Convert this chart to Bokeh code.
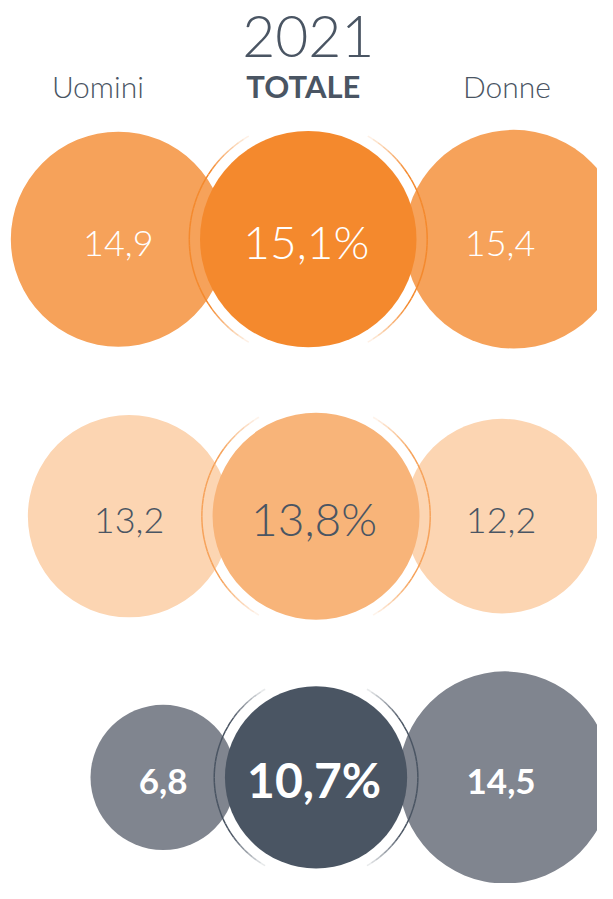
import numpy as np
from bokeh.plotting import figure
from bokeh.models import Range1d
from bokeh.core.properties import value
from bokeh.embed import file_html
from bokeh.resources import INLINE

# ---- data ----
year = "2021"
categories = ["Uomini", "TOTALE", "Donne"]
uomini = [14.9, 13.2, 6.8]
totale = [15.1, 13.8, 10.7]
donne = [15.4, 12.2, 14.5]

# ---- layout / style ----
row_y = [243, 525, 791]
x_uomini = [121, 132, 167]
x_tot = [316, 324, 324]
x_donne = [527, 515, 518]
text_x_donne = [513, 514, 514]
k = 28.6  # radius = k * sqrt(value), area proportional to value

side_colors = ["#F6A25A", "#FCD5B2", "#80858F"]
tot_colors = ["#F4892D", "#F8B479", "#4A5563"]
ring_colors = ["#F4892D", "#F6A25A", "#4A5563"]
txt_colors = ["#FFFFFF", "#4A5563", "#FFFFFF"]
txt_styles = ["normal", "normal", "bold"]
side_sizes = ["36px", "36px", "35px"]
tot_sizes = ["46px", "46px", "48px"]
dark = "#4A5563"
LIGHT = value("Lato Light, Lato")
BOLD = value("Lato")

p = figure(width=597, height=883, x_range=Range1d(0, 613), y_range=Range1d(899, 0),
           output_backend="svg", toolbar_location=None, min_border=0)
p.axis.visible = False
p.xgrid.visible = False
p.ygrid.visible = False
p.outline_line_color = None
p.background_fill_color = "white"
p.border_fill_color = "white"

def fmt(v):
    return f"{v:.1f}".replace(".", ",")

# side circles
for i in range(3):
    ru = k * np.sqrt(uomini[i])
    rd = k * np.sqrt(donne[i])
    p.circle(x=[x_uomini[i], x_donne[i]], y=[row_y[i], row_y[i]], radius=[ru, rd],
             fill_color=side_colors[i], line_color=None)

# rings (fading arcs on left and right)
for i in range(3):
    rt = k * np.sqrt(totale[i])
    rr = rt + 11
    step = 3
    for side in (0, 180):
        for a0 in range(-60, 60, step):
            mid = abs(a0 + step / 2)
            alpha = float(np.clip((62 - mid) / 28.0, 0, 1))
            if alpha <= 0:
                continue
            p.arc(x=[x_tot[i]], y=[row_y[i]], radius=rr,
                  start_angle=np.deg2rad(side + a0), end_angle=np.deg2rad(side + a0 + step),
                  line_color=ring_colors[i], line_width=1.5, line_alpha=alpha)

# total circles
for i in range(3):
    rt = k * np.sqrt(totale[i])
    p.circle(x=[x_tot[i]], y=[row_y[i]], radius=rt, fill_color=tot_colors[i], line_color=None)

# value labels
for i in range(3):
    font = BOLD if txt_styles[i] == "bold" else LIGHT
    p.text(x=[x_uomini[i], text_x_donne[i]], y=[row_y[i] + 4, row_y[i] + 4],
           text=[fmt(uomini[i]), fmt(donne[i])], text_align="center", text_baseline="middle",
           text_color=txt_colors[i], text_font=font, text_font_size=side_sizes[i],
           text_font_style=txt_styles[i])
    p.text(x=[x_tot[i] - 2], y=[row_y[i] + 2], text=[fmt(totale[i]) + "%"],
           text_align="center", text_baseline="middle",
           text_color=txt_colors[i], text_font=font, text_font_size=tot_sizes[i],
           text_font_style=txt_styles[i])

# header
p.text(x=[316], y=[37], text=[year], text_align="center", text_baseline="middle",
       text_color=dark, text_font=LIGHT, text_font_size="57px")
p.text(x=[100, 520], y=[87, 87], text=[categories[0], categories[2]], text_align="center",
       text_baseline="middle", text_color=dark, text_font=LIGHT, text_font_size="30px")
p.text(x=[311], y=[87], text=[categories[1]], text_align="center", text_baseline="middle",
       text_color=dark, text_font=BOLD, text_font_size="31px", text_font_style="bold")

open("out.html", "w").write(file_html(p, INLINE))
